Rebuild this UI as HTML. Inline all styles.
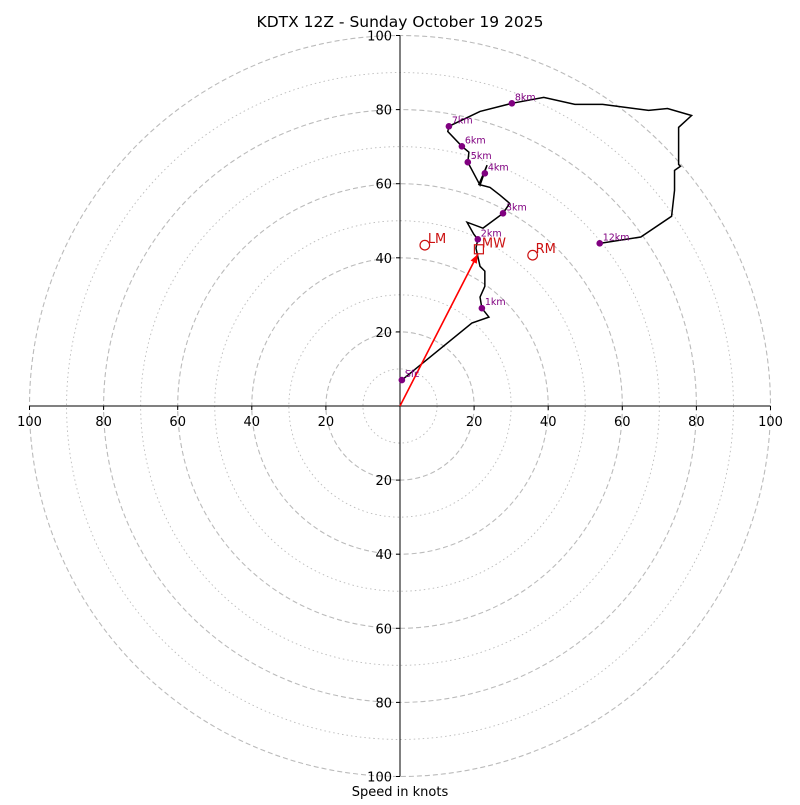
<!DOCTYPE html>
<html><head><meta charset="utf-8"><style>
body{margin:0;background:#fff}
svg text{font-family:"DejaVu Sans","Liberation Sans",sans-serif}
</style></head><body>
<svg id="c" width="800" height="800" xmlns="http://www.w3.org/2000/svg">
<text x="400" y="27" text-anchor="middle" font-size="15.5">KDTX 12Z - Sunday October 19 2025</text>
<text x="400" y="796" text-anchor="middle" font-size="13">Speed in knots</text>
</svg>
<script>
const ringValues=[10,20,30,40,50,60,70,80,90,100];
const tickValues=[100,80,60,40,20,20,40,60,80,100];
const tickSigned=[-100,-80,-60,-40,-20,20,40,60,80,100];
const hodoU=[0.5,19.4,24.0,22.1,21.6,22.9,22.9,21.6,20.5,21.0,19.9,18.1,22.4,27.8,29.6,27.0,24.3,21.3,23.5,21.6,18.3,18.6,16.7,12.9,13.2,21.6,30.2,38.8,47.2,54.7,67.1,72.2,78.7,75.2,75.2,75.7,74.1,74.1,73.3,65.0,53.9];
const hodoV=[7.0,22.4,24.0,26.4,29.4,32.3,36.4,37.7,42.6,45.0,46.4,49.6,48.0,52.0,54.7,56.9,59.0,59.8,65.0,59.6,65.8,68.5,70.1,74.1,75.5,79.5,81.7,83.3,81.4,81.4,79.8,80.3,78.4,75.2,65.2,64.7,63.6,58.2,51.2,45.6,43.9];
const markLabels=["Sfc","1km","2km","3km","4km","5km","6km","7km","8km","12km"];
const markU=[0.5,22.1,21.0,27.8,22.9,18.3,16.7,13.2,30.2,53.9];
const markV=[7.0,26.4,45.0,52.0,62.8,65.8,70.1,75.5,81.7,43.9];
const motionLabels=["LM","MW","RM"];
const motionU=[6.7,21.3,35.8];
const motionV=[43.4,42.3,40.7];
const stormU=21.0, stormV=41.0;

const svg=document.getElementById('c');
const NS='http://www.w3.org/2000/svg';
const cx=400, cy=406, k=3.705;
const X=u=>cx+u*k, Y=v=>cy-v*k;
function mk(t,a){const e=document.createElementNS(NS,t);for(const n in a)e.setAttribute(n,a[n]);svg.appendChild(e);return e;}
ringValues.forEach(r=>{
  const e=mk('circle',{cx:cx,cy:cy,r:r*k,fill:'none',stroke:'#bbb','stroke-width':r%20===0?1.1:0.9,'stroke-dasharray':r%20===0?'5,3':'1.5,3'});
  
  
});
let ax=mk('line',{x1:X(-100),y1:cy,x2:X(100),y2:cy,stroke:'#000','stroke-width':1});


ax=mk('line',{x1:cx,y1:Y(100),x2:cx,y2:Y(-100),stroke:'#000','stroke-width':1});


tickSigned.forEach((s,i)=>{
  mk('line',{x1:X(s),y1:cy,x2:X(s),y2:cy+4,stroke:'#000'});
  let t=mk('text',{x:X(s),y:cy+20,'text-anchor':'middle','font-size':13});
  t.textContent=tickValues[i];
  
  
  mk('line',{x1:cx-4,y1:Y(s),x2:cx,y2:Y(s),stroke:'#000'});
  t=mk('text',{x:cx-8,y:Y(s)+5,'text-anchor':'end','font-size':13});
  t.textContent=tickValues[i];
  
  
});
const pl=mk('polyline',{points:hodoU.map((u,i)=>X(u)+','+Y(hodoV[i])).join(' '),fill:'none',stroke:'#000','stroke-width':1.5});


const ex=X(stormU), ey=Y(stormV);
const ar=mk('line',{x1:cx,y1:cy,x2:ex,y2:ey,stroke:'red','stroke-width':1.6});


const ang=Math.atan2(ey-cy,ex-cx);
const hp=[[ex,ey],[ex-9*Math.cos(ang)+3.5*Math.sin(ang),ey-9*Math.sin(ang)-3.5*Math.cos(ang)],[ex-9*Math.cos(ang)-3.5*Math.sin(ang),ey-9*Math.sin(ang)+3.5*Math.cos(ang)]];
mk('polygon',{points:hp.map(p=>p.join(',')).join(' '),fill:'red'});
markLabels.forEach((l,i)=>{
  const d=mk('circle',{cx:X(markU[i]),cy:Y(markV[i]),r:3.3,fill:'purple'});
  
  
  const t=mk('text',{x:X(markU[i])+3,y:Y(markV[i])-3,'font-size':9.5,fill:'purple'});
  t.textContent=l;
  
  
});
motionLabels.forEach((l,i)=>{
  const x=X(motionU[i]), y=Y(motionV[i]);
  let m;
  if(l==='MW') m=mk('rect',{x:x-4.5,y:y-4.5,width:9,height:9,fill:'none',stroke:'#c11','stroke-width':1.2});
  else m=mk('circle',{cx:x,cy:y,r:4.8,fill:'none',stroke:'#c11','stroke-width':1.2});
  
  
  const t=mk('text',{x:x+3,y:y-2,'font-size':13,fill:'#c11'});
  t.textContent=l;
  
  
});
</script>
</body></html>
